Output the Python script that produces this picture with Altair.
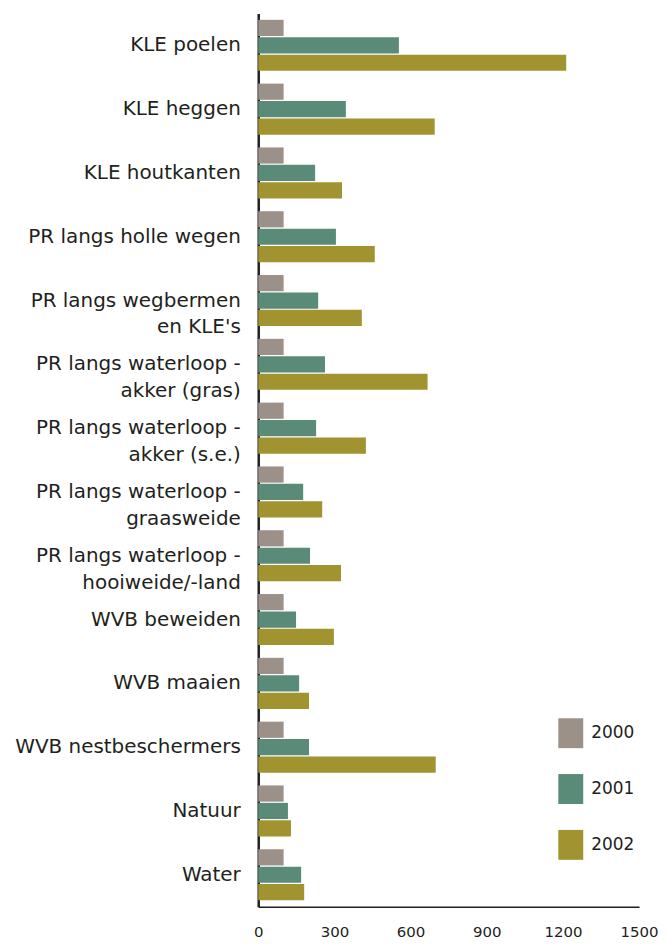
import altair as alt
import pandas as pd

categories = [
    "KLE poelen",
    "KLE heggen",
    "KLE houtkanten",
    "PR langs holle wegen",
    "PR langs wegbermen|en KLE's",
    "PR langs waterloop -|akker (gras)",
    "PR langs waterloop -|akker (s.e.)",
    "PR langs waterloop -|graasweide",
    "PR langs waterloop -|hooiweide/-land",
    "WVB beweiden",
    "WVB maaien",
    "WVB nestbeschermers",
    "Natuur",
    "Water",
]
years = ["2000", "2001", "2002"]
values_2000 = [100, 100, 100, 100, 100, 100, 100, 100, 100, 100, 100, 100, 100, 100]
values_2001 = [554, 345, 224, 306, 236, 263, 228, 177, 204, 149, 161, 200, 117, 169]
values_2002 = [1213, 695, 330, 459, 408, 667, 424, 252, 326, 298, 200, 699, 129, 181]
colors = ["#9b9189", "#5a8a78", "#a09330"]
x_ticks = [0, 300, 600, 900, 1200, 1500]

rows = []
for yr, vals in zip(years, [values_2000, values_2001, values_2002]):
    for c, v in zip(categories, vals):
        rows.append({"cat": c, "year": yr, "value": v})
df = pd.DataFrame(rows)

chart = alt.Chart(df).mark_bar().encode(
    x=alt.X(
        "value:Q",
        scale=alt.Scale(domain=[0, 1500], nice=False, zero=True),
        axis=alt.Axis(
            values=x_ticks,
            format="d",
            title=None,
            grid=False,
            ticks=False,
            domainColor="#231f20",
            domainWidth=1.5,
            labelFont="DejaVu Sans",
            labelFontSize=15,
            labelColor="#231f20",
            labelPadding=18,
            labelFlush=False,
        ),
    ),
    y=alt.Y(
        "cat:N",
        sort=categories,
        scale=alt.Scale(paddingInner=0.2, paddingOuter=0.1),
        axis=alt.Axis(
            title=None,
            grid=False,
            ticks=False,
            domainColor="#231f20",
            domainWidth=2.5,
            labelFont="DejaVu Sans",
            labelFontSize=20,
            labelColor="#231f20",
            labelPadding=18,
            labelLimit=400,
            labelLineHeight=27,
            labelExpr="split(datum.label, '|')",
            minExtent=250,
            maxExtent=250,
        ),
    ),
    yOffset=alt.YOffset("year:N", sort=years, scale=alt.Scale(paddingInner=0.07)),
    color=alt.Color(
        "year:N",
        sort=years,
        scale=alt.Scale(domain=years, range=colors),
        legend=alt.Legend(
            title=None,
            orient="none",
            legendX=298.5,
            legendY=707,
            symbolType="M-0.833,-1H0.833V1H-0.833Z",
            symbolSize=900,
            symbolStrokeWidth=0,
            symbolOpacity=1,
            rowPadding=26,
            labelOffset=5.5,
            labelFont="DejaVu Sans",
            labelFontSize=17,
            labelColor="#231f20",
            padding=0,
        ),
    ),
).properties(
    width=382,
    height=896,
    background="white",
    padding={"left": 1, "top": 4, "right": 0, "bottom": 0},
).configure_view(stroke=None)

chart.save("out.html", embed_options={"renderer": "svg", "actions": False})
